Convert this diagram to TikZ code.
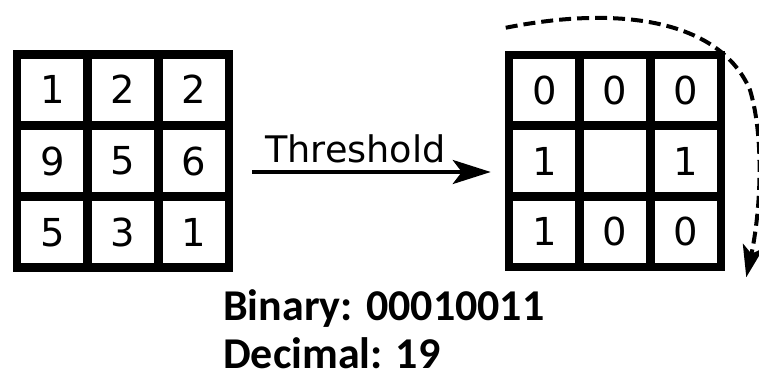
\documentclass[tikz,border=0pt]{standalone}
\usepackage{fontspec}
\setmainfont{DejaVu Sans}
\newfontfamily\calib{Carlito}
\usetikzlibrary{arrows.meta,calc}
\tikzset{
  cell/.style={draw=black, line width=8.5pt, minimum size=70.67pt, inner sep=0pt,
    font=\fontsize{38.5}{46}\selectfont},
  thrarrow/.style={line width=4pt, -{Stealth[length=38pt,width=24pt,inset=9pt]}},
  looparrow/.style={line width=4pt, dash pattern=on 12pt off 6pt,
    -{Stealth[length=32pt,width=21pt,inset=8pt]}},
  lbl/.style={font=\fontsize{36.6}{44}\selectfont, inner sep=0pt, anchor=base west},
  res/.style={font=\calib\bfseries\fontsize{44}{52}\selectfont, inner sep=0pt,
    text depth=0pt, anchor=base west}
}
\begin{document}
\begin{tikzpicture}[x=1pt,y=-1pt]
\useasboundingbox[fill=white] (0,0) rectangle (759,374);
% left grid
\node[cell] (L11) at (52.33,89.67) {1};
\node[cell] (L12) at (123,89.67) {2};
\node[cell] (L13) at (193.67,89.67) {2};
\node[cell] (L21) at (52.33,161) {9};
\node[cell] (L22) at (123,161) {5};
\node[cell] (L23) at (193.67,161) {6};
\node[cell] (L31) at (52.33,232.33) {5};
\node[cell] (L32) at (123,232.33) {3};
\node[cell] (L33) at (193.67,232.33) {1};
% right grid
\node[cell] (R11) at (544.33,90.33) {0};
\node[cell] (R12) at (615,90.33) {0};
\node[cell] (R13) at (685.67,90.33) {0};
\node[cell] (R21) at (544.33,161) {1};
\node[cell] (R22) at (615,161) {};
\node[cell] (R23) at (685.67,161) {1};
\node[cell] (R31) at (544.33,231.67) {1};
\node[cell] (R32) at (615,231.67) {0};
\node[cell] (R33) at (685.67,231.67) {0};
% threshold arrow
\coordinate (ta) at ($(L23.east)+(19,11)$);
\coordinate (tb) at ($(R21.west)+(-14,11)$);
\draw[thrarrow] (ta) -- (tb);
\node[lbl] (thr) at (265,163) {Threshold};
% dashed loop arrow
\coordinate (ds) at ($(R11.north west)+(1,-23)$);
\coordinate (dm) at (750,90);
\coordinate (de) at ($(R33.south east)+(21,6)$);
\draw[looparrow] (ds) .. controls (620,5) and (720,20) .. (dm)
  .. controls (765,140) and (760,215) .. (de);
% result text
\node[res] (bin) at (223,320) {Binary: 00010011};
\node[res] (dec) at (223,368) {Decimal: 19};
\end{tikzpicture}
\end{document}
